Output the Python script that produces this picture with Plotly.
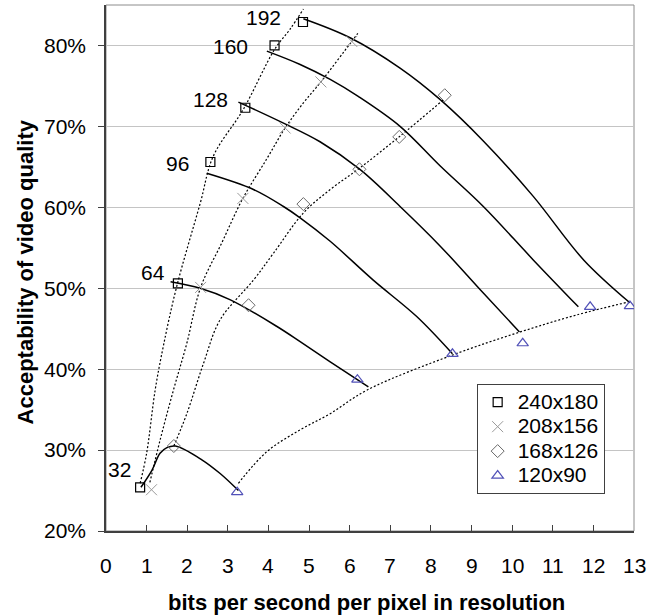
import plotly.graph_objects as go

# Bitrates (kbps) used to label the iso-bitrate curves
bitrates = [32, 64, 96, 128, 160, 192]

# Axis ticks
x_ticks = list(range(0, 14))
x_ticklabels = [str(v) for v in x_ticks]
y_ticks = [20, 30, 40, 50, 60, 70, 80]
y_ticklabels = ["20%", "30%", "40%", "50%", "60%", "70%", "80%"]

# Measured points per resolution: bits/s per pixel vs. acceptability (%)
res_names = ["240x180", "208x156", "168x126", "120x90"]
r240_x = [0.84, 1.77, 2.57, 3.43, 4.15, 4.85]
r240_y = [25.4, 50.6, 65.6, 72.3, 80.0, 82.9]
r208_x = [1.12, 2.33, 3.37, 4.41, 5.29, 6.05]
r208_y = [25.1, 50.1, 61.1, 69.8, 75.5, 80.5]
r168_x = [1.67, 3.51, 4.86, 6.24, 7.22, 8.34]
r168_y = [30.5, 47.9, 60.4, 64.7, 68.7, 73.85]
r120_x = [3.23, 6.19, 8.53, 10.26, 11.92, 12.9]
r120_y = [24.8, 38.7, 41.9, 43.2, 47.7, 47.8]

# Iso-bitrate trend curves (solid)
k32_x = [0.86, 1.13, 1.33, 1.50, 1.71, 2.36, 2.81, 3.26]
k32_y = [25.4, 27.5, 29.6, 30.3, 30.5, 28.8, 27.1, 25.0]
k64_x = [1.59, 2.32, 3.05, 4.20, 4.78, 5.52, 6.46]
k64_y = [50.8, 50.0, 48.6, 45.3, 43.4, 40.9, 37.8]
k96_x = [2.48, 3.63, 4.37, 4.78, 5.52, 6.58, 7.65, 8.53]
k96_y = [64.2, 62.2, 60.1, 58.7, 55.8, 51.0, 46.5, 41.9]
k128_x = [3.26, 4.37, 5.27, 6.26, 7.24, 8.23, 9.29, 10.18]
k128_y = [73.0, 70.4, 68.1, 64.65, 60.1, 55.2, 49.4, 44.6]
k160_x = [3.96, 4.78, 5.52, 6.21, 7.24, 8.23, 9.29, 10.52, 11.63]
k160_y = [79.3, 77.65, 75.8, 73.7, 70.0, 65.1, 60.1, 53.5, 47.7]
k192_x = [4.86, 6.01, 7.24, 8.23, 9.29, 10.52, 11.76, 12.9]
k192_y = [83.3, 80.95, 77.2, 73.3, 68.2, 61.35, 53.5, 48.2]

# Per-resolution trend curves (dotted)
t240_x = [0.84, 1.0, 1.21, 1.41, 1.74, 2.32, 2.64, 3.38, 4.15, 4.53, 4.86]
t240_y = [25.9, 29.6, 37.4, 42.8, 50.2, 60.5, 66.3, 72.1, 79.5, 82.0, 84.5]
t208_x = [1.08, 1.33, 1.66, 1.99, 2.33, 2.85, 3.37, 3.96, 4.41, 4.86, 5.29, 6.05, 6.2]
t208_y = [26.0, 31.2, 37.4, 43.2, 50.1, 55.6, 61.1, 66.0, 69.8, 72.9, 75.5, 80.5, 81.5]
t168_x = [1.67, 1.99, 2.40, 2.81, 3.63, 4.12, 4.86, 5.52, 6.26, 7.24, 8.31]
t168_y = [30.5, 34.5, 40.7, 46.1, 51.0, 54.3, 59.3, 62.2, 64.9, 68.8, 73.3]
t120_x = [3.26, 3.96, 4.78, 5.52, 6.42, 8.56, 10.20, 11.59, 12.9]
t120_y = [25.9, 29.8, 32.5, 34.5, 37.4, 41.8, 44.6, 46.7, 48.35]

# Where each bitrate label sits
label_x = [0.34, 1.15, 1.77, 2.57, 3.07, 3.88]
label_y = [27.6, 52.0, 65.4, 73.3, 79.9, 83.5]

FONT = "Liberation Sans, Arial, sans-serif"
AXIS_COLOR = "#404040"

fig = go.Figure()

for xs, ys in [(t240_x, t240_y), (t208_x, t208_y), (t168_x, t168_y), (t120_x, t120_y)]:
    fig.add_trace(go.Scatter(
        x=xs, y=ys, mode="lines", showlegend=False, hoverinfo="skip",
        line=dict(color="#000000", width=1.2, dash="2px,2px", shape="spline", smoothing=1.0),
    ))

for xs, ys in [(k32_x, k32_y), (k64_x, k64_y), (k96_x, k96_y),
               (k128_x, k128_y), (k160_x, k160_y), (k192_x, k192_y)]:
    fig.add_trace(go.Scatter(
        x=xs, y=ys, mode="lines", showlegend=False, hoverinfo="skip",
        line=dict(color="#000000", width=1.5, shape="spline", smoothing=1.0),
    ))

marker_styles = [
    dict(symbol="square-open", size=9, color="#000000", line=dict(width=1.2, color="#000000")),
    dict(symbol="x-thin-open", size=11, color="#9a9a9a", line=dict(width=1, color="#9a9a9a")),
    dict(symbol="diamond-open", size=10, color="#6a6a6a", line=dict(width=1, color="#6a6a6a")),
    dict(symbol="triangle-up-open", size=10, color="#5252b8", line=dict(width=1.2, color="#5252b8")),
]
for name, xs, ys, mk in zip(res_names, [r240_x, r208_x, r168_x, r120_x],
                            [r240_y, r208_y, r168_y, r120_y], marker_styles):
    # legend rows are spaced by the legend font; the entry text itself is larger
    fig.add_trace(go.Scatter(
        x=xs, y=ys, mode="markers", marker=mk,
        name=f"<span style='font-size:21px'>{name}</span>",
    ))

# bitrate labels next to the 240x180 points
annotations = [
    dict(x=lx, y=ly, xref="x", yref="y", text=str(b), showarrow=False,
         font=dict(family=FONT, size=21, color="#000000"), xanchor="center", yanchor="middle")
    for b, lx, ly in zip(bitrates, label_x, label_y)
]
# bottom-axis numbers, set well below the axis line
annotations += [
    dict(x=v, y=-0.0665, xref="x", yref="paper", text=t, showarrow=False,
         font=dict(family=FONT, size=21, color="#000000"), xanchor="center", yanchor="middle")
    for v, t in zip(x_ticks, x_ticklabels)
]
annotations.append(dict(
    x=0.494, y=-0.135, xref="paper", yref="paper", showarrow=False,
    text="<b>bits per second per pixel in resolution</b>",
    font=dict(family=FONT, size=22, color="#000000"), xanchor="center", yanchor="middle"))
annotations.append(dict(
    x=-0.153, y=0.492, xref="paper", yref="paper", showarrow=False, textangle=-90,
    text="<b>Acceptability of video quality</b>",
    font=dict(family=FONT, size=22, color="#000000"), xanchor="center", yanchor="middle"))

fig.update_layout(
    width=655, height=615,
    margin=dict(l=106, r=21, t=5, b=84),
    paper_bgcolor="#ffffff", plot_bgcolor="#ffffff",
    font=dict(family=FONT, size=21, color="#000000"),
    annotations=annotations,
    shapes=[dict(type="rect", xref="paper", yref="paper", x0=0, y0=0, x1=1, y1=1,
                 line=dict(color="#8c8c8c", width=1), layer="below")],
    legend=dict(x=0.702, y=0.2795, xanchor="left", yanchor="top",
                bgcolor="#ffffff", bordercolor=AXIS_COLOR, borderwidth=1,
                font=dict(family=FONT, size=16.5, color="#000000"),
                tracegroupgap=0),
    showlegend=True,
    xaxis=dict(
        range=[0, 13], tickvals=x_ticks, showgrid=False, zeroline=False,
        showline=True, linecolor=AXIS_COLOR, linewidth=1.5,
        ticks="inside", ticklen=6, tickcolor=AXIS_COLOR, tickwidth=1,
        showticklabels=False,
    ),
    yaxis=dict(
        range=[20, 85], tickvals=y_ticks, ticktext=y_ticklabels,
        showgrid=True, gridcolor="#c4c4c4", gridwidth=1, zeroline=False,
        showline=True, linecolor=AXIS_COLOR, linewidth=1.5,
        ticks="outside", ticklen=6, tickcolor=AXIS_COLOR,
        ticklabelstandoff=8, tickfont=dict(family=FONT, size=21),
    ),
)

fig.write_html("out.html")
